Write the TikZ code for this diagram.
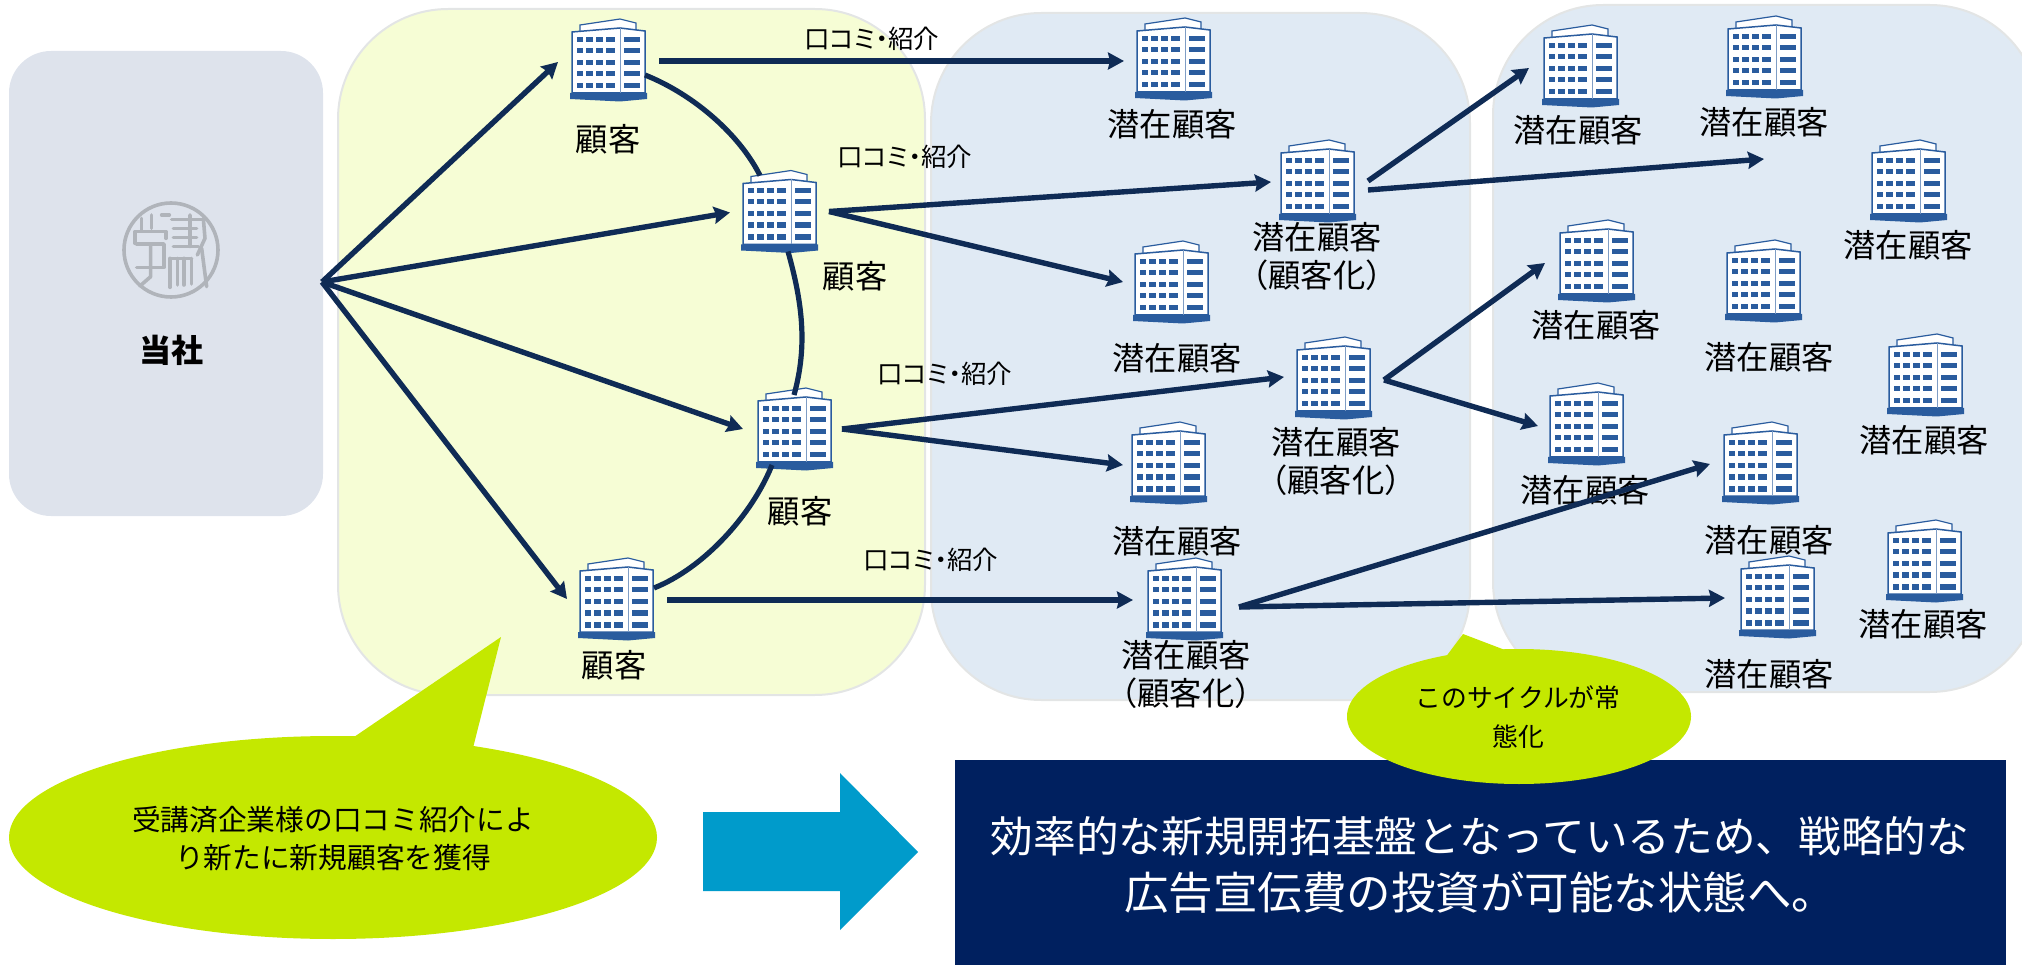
\documentclass[tikz,border=0pt]{standalone}
\usepackage{fontspec}
\setmainfont{Noto Sans CJK JP}
\newfontfamily\palt[RawFeature=+palt]{Noto Sans CJK JP}
\usetikzlibrary{arrows.meta,calc}
\definecolor{navyline}{HTML}{0F2B55}
\definecolor{bldgblue}{HTML}{2A5C9E}
\definecolor{panelgrey}{HTML}{DEE3EC}
\definecolor{panelyellow}{HTML}{F6FDD5}
\definecolor{panelblue}{HTML}{E0EAF4}
\definecolor{paneledge}{HTML}{E3E5E5}
\definecolor{lime}{HTML}{C4E800}
\definecolor{cyanarrow}{HTML}{009BCB}
\definecolor{navybox}{HTML}{00205F}
\definecolor{sealgrey}{HTML}{B0B4BA}
\newcommand{\bldgdraw}{%
  \begin{scope}[shift={(path picture bounding box.center)}]
    \fill[white,draw=bldgblue,line width=1.2pt] (-28,-35) -- (12,-41) -- (28,-37) -- (28,-28) -- (-28,-28) -- cycle;
    \fill[white,draw=bldgblue,line width=1.5pt] (-36,-28) -- (12,-32) -- (37,-29) -- (37,33) -- (-36,33) -- cycle;
    \draw[bldgblue!60,line width=1pt] (12,-32) -- (12,33);
    \foreach \ya/\yb in {-23/-18,-12/-7,0/5,11/16.5,23/28.5}{
      \foreach \xa/\xb in {-31/-25,-22/-15,-12/-5,-2/7,16/32}{
        \fill[bldgblue] (\xa,\ya) rectangle (\xb,\yb);
      }
    }
    \fill[bldgblue] (-38,33) -- (39,33) -- (39,39) -- (12,41.5) -- (-38,39) -- cycle;
  \end{scope}}
\tikzset{
  x=1pt,y=-1pt,
  bldg/.style={shape=rectangle,inner sep=0pt,minimum width=80pt,minimum height=88pt,path picture={\bldgdraw}},
  panel/.style={draw=paneledge,line width=2pt,rounded corners=#1},
  lab/.style={font=\fontsize{32.3}{38}\selectfont,align=center,inner sep=0pt,text=black},
  wom/.style={font=\palt\fontsize{25.5}{28}\selectfont,inner sep=0pt,text=black},
  arr/.style={draw=navyline,line width=5.4pt,-{Stealth[length=16pt,width=17pt,inset=2pt]}},
  arc/.style={draw=navyline,line width=5.2pt},
  seal/.style={draw=sealgrey,line width=3.6pt,line cap=round,line join=round},
  callout/.style={fill=lime,draw=none}
}
\begin{document}
\begin{tikzpicture}
\useasboundingbox (0,0) rectangle (2022,965);
% panels
\fill[panelgrey,rounded corners=42pt] (9,51) rectangle (323,516);
\path[panel=110pt,fill=panelyellow] (338,9) rectangle (925,695);
\path[panel=110pt,fill=panelblue] (931,13) rectangle (1470,700);
\begin{scope}
\clip (0,0) rectangle (2022,965);
\path[panel=110pt,fill=panelblue] (1493,5) rectangle (2040,692);
\end{scope}
% seal
\node[circle,draw=sealgrey,line width=3.6pt,inner sep=0pt,minimum size=94pt] (sealring) at (171,250) {};
\begin{scope}[shift={(90,180)},x=0.3333pt,y=-0.3333pt]
  \draw[seal] (155,115) -- (155,150) (185,105) -- (185,145) (215,105) -- (238,105);
  \draw[seal] (135,190) -- (135,155) -- (228,155) -- (228,175);
  \draw[seal] (140,192) -- (222,192) -- (222,262) -- (140,262);
  \draw[seal] (182,195) -- (182,290) -- (150,318);
  \draw[seal] (245,118) -- (335,118) (250,145) -- (320,145) (250,172) -- (320,172) (250,200) -- (325,200);
  \draw[seal] (300,105) -- (300,200) (340,115) -- (345,175) -- (322,225);
  \draw[seal] (240,235) -- (240,322) (262,235) -- (262,315) (282,235) -- (282,315) (305,235) -- (305,312) (240,235) -- (305,235);
  \draw[seal] (335,205) -- (350,320);
\end{scope}
\node[font=\bfseries\fontsize{32}{36}\selectfont,inner sep=0pt] (tosha) at (171.5,350) {当社};
% buildings
\foreach \n/\x/\y in {b1/608/60,b2/779/211.5,b3/794/429,b4/616/599,
  p1/1173/59,p2/1317/181,p3/1171/282,p4/1333/378,p5/1168/463,p6/1184/599,
  q1/1580/66,q2/1764/57,q3/1908/181,q4/1596/261,q5/1763/281,q6/1925/375,
  q7/1586/424,q8/1760/463,q9/1924/561,q10/1777/597}{
  \node[bldg] (\n) at (\x,\y) {};
}
% building labels
\node[lab] (lb1) at (608,139) {顧客};
\node[lab] (lb2) at (855,276) {顧客};
\node[lab] (lb3) at (800,511) {顧客};
\node[lab] (lb4) at (614,665) {顧客};
\node[lab] (lp1) at (1172,124) {潜在顧客};
\node[lab] (lp2) at (1317,256) {潜在顧客\\（顧客化）};
\node[lab] (lp3) at (1177,358) {潜在顧客};
\node[lab] (lp4) at (1336,461) {潜在顧客\\（顧客化）};
\node[lab] (lp5) at (1177,541) {潜在顧客};
\node[lab] (lp6) at (1186,674) {潜在顧客\\（顧客化）};
\node[lab] (lq1) at (1578,130) {潜在顧客};
\node[lab] (lq2) at (1764,122) {潜在顧客};
\node[lab] (lq3) at (1908,245) {潜在顧客};
\node[lab] (lq4) at (1596,325) {潜在顧客};
\node[lab] (lq5) at (1769,357) {潜在顧客};
\node[lab] (lq6) at (1924,440) {潜在顧客};
\node[lab] (lq7) at (1585,490) {潜在顧客};
\node[lab] (lq8) at (1769,540) {潜在顧客};
\node[lab] (lq9) at (1923,624) {潜在顧客};
\node[lab] (lq10) at (1769,674) {潜在顧客};
% word of mouth labels
\node[wom] (w1) at (872,39) {口コミ・紹介};
\node[wom] (w2) at (905,157) {口コミ・紹介};
\node[wom] (w3) at (945,374) {口コミ・紹介};
\node[wom] (w4) at (931,560) {口コミ・紹介};
% connectors
\coordinate (hub) at (322,282);
\draw[arr] (hub) -- ([shift={(-50,2)}]b1.center);
\draw[arr] (hub) -- ([shift={(-49,1)}]b2.center);
\draw[arr] (hub) -- ([shift={(-51,0)}]b3.center);
\draw[arr] (hub) -- ([shift={(-49,0)}]b4.center);
\draw[arr] ([shift={(51,1)}]b1.center) -- ([shift={(-49,2)}]p1.center);
\draw[arr] ([shift={(50,0)}]b2.center) -- ([shift={(-46,1)}]p2.center);
\draw[arr] ([shift={(50,0)}]b2.center) -- ([shift={(-48,0)}]p3.center);
\draw[arr] ([shift={(48,0)}]b3.center) -- ([shift={(-49,-1)}]p4.center);
\draw[arr] ([shift={(48,0)}]b3.center) -- ([shift={(-45,2)}]p5.center);
\draw[arr] ([shift={(51,1)}]b4.center) -- ([shift={(-51,1)}]p6.center);
\draw[arr] ([shift={(51,0)}]p2.center) -- ([shift={(-51,2)}]q1.center);
\draw[arr] ([shift={(51,9)}]p2.center) -- ([shift={(0,102)}]q2.center);
\draw[arr] ([shift={(51,2)}]p4.center) -- ([shift={(-51,2)}]q4.center);
\draw[arr] ([shift={(51,2)}]p4.center) -- ([shift={(-48,2)}]q7.center);
\draw[arr] ([shift={(55,8)}]p6.center) -- ([shift={(-50,1)}]q8.center);
\draw[arr] ([shift={(55,8)}]p6.center) -- ([shift={(-52,1)}]q10.center);
\draw[arc] ([shift={(37,15)}]b1.center) .. controls +(50,20) and +(-20,-40) .. ([shift={(-19,-36)}]b2.center);
\draw[arc] ([shift={(9,40)}]b2.center) .. controls +(14,50) and +(14,-50) .. ([shift={(0,-34)}]b3.center);
\draw[arc] ([shift={(-22,36)}]b3.center) .. controls +(-20,50) and +(50,-20) .. ([shift={(38,-11)}]b4.center);
% bottom box and arrow
\path[fill=cyanarrow] (703,812) -- (840,812) -- (840,773) -- (918,852) -- (840,930) -- (840,891) -- (703,891) -- cycle;
\node[fill=navybox,inner sep=0pt,minimum width=1051pt,minimum height=205pt,anchor=north west] (result) at (955,760) {};
\node[text=white,inner sep=0pt,font=\fontsize{42.7}{57}\selectfont] (res1) at (1480,836) {効率的な新規開拓基盤となっているため、戦略的な};
\node[text=white,inner sep=0pt,font=\fontsize{44.5}{57}\selectfont] (res2) at (1480,893) {広告宣伝費の投資が可能な状態へ。};
% callouts
\path[callout] (333,837.5) ellipse [x radius=324,y radius=101.5];
\path[callout] (354,737) -- (501,637) -- (473,748) -- cycle;
\path[callout] (1519,716.5) ellipse [x radius=172,y radius=67.5];
\path[callout] (1445,658) -- (1463,634) -- (1505,650) -- cycle;
\node[font=\fontsize{28.7}{38}\selectfont,align=center,inner sep=0pt] (c1) at (333,839) {受講済企業様の口コミ紹介によ\\り新たに新規顧客を獲得};
\node[font=\fontsize{25.8}{39}\selectfont,align=center,inner sep=0pt] (c2) at (1518,717) {このサイクルが常\\態化};
\end{tikzpicture}
\end{document}
